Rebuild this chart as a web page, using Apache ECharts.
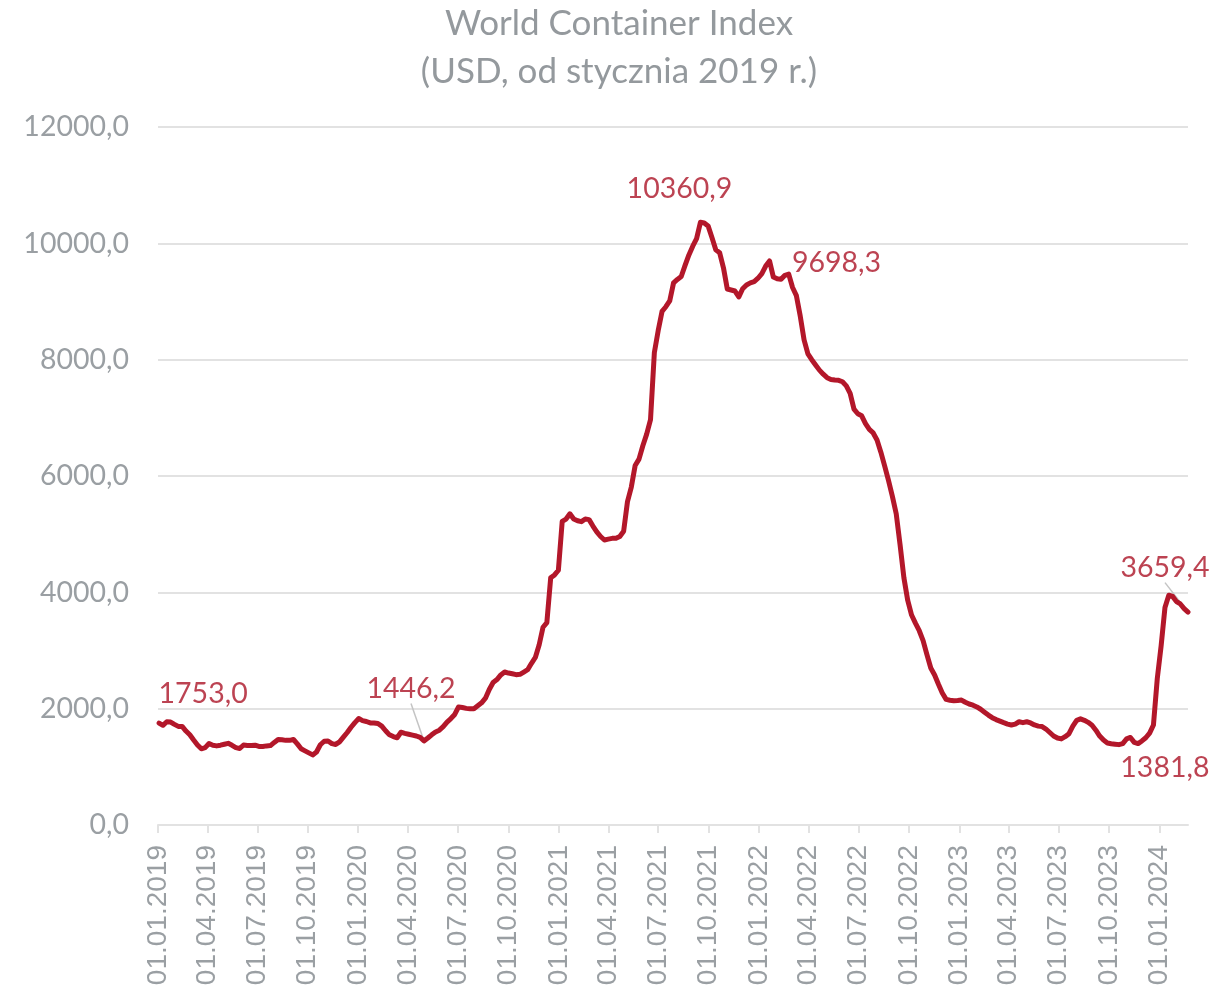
<!DOCTYPE html>
<html>
<head>
<meta charset="utf-8">
<script src="https://cdn.jsdelivr.net/npm/echarts@6/dist/echarts.min.js"></script>
<style>
  html, body { margin: 0; padding: 0; background: #fff; }
  #chart { width: 1219px; height: 996px; }
</style>
</head>
<body>
<div id="chart"></div>
<script>
// weekly index readings, first reading on Thursday 03.01.2019
const firstWeek = '2019-01-03';

const quarterTicks = [
    '2019-01-01', '2019-04-01', '2019-07-01', '2019-10-01',
    '2020-01-01', '2020-04-01', '2020-07-01', '2020-10-01',
    '2021-01-01', '2021-04-01', '2021-07-01', '2021-10-01',
    '2022-01-01', '2022-04-01', '2022-07-01', '2022-10-01',
    '2023-01-01', '2023-04-01', '2023-07-01', '2023-10-01',
    '2024-01-01'
];

const wci2019 = [
    1753.0, 1714, 1775, 1770, 1730, 1695, 1695, 1615, 1550, 1460,
    1375, 1310, 1330, 1400, 1370, 1360, 1372, 1388, 1404, 1370,
    1330, 1315, 1375, 1368, 1366, 1372, 1350, 1350, 1360, 1365,
    1420, 1470, 1465, 1455, 1455, 1470, 1395, 1310, 1275, 1240,
    1205, 1255, 1380, 1440, 1445, 1400, 1385, 1430, 1510, 1590,
    1680, 1760
];
const wci2020 = [
    1830, 1795, 1780, 1755, 1755, 1745, 1700, 1620, 1550, 1520,
    1500, 1595, 1575, 1560, 1545, 1530, 1505, 1446.2, 1495, 1550,
    1600, 1630, 1690, 1770, 1830, 1900, 2030, 2020, 2005, 1998,
    2000, 2050, 2100, 2180, 2330, 2450, 2500, 2580, 2630, 2612,
    2600, 2585, 2590, 2630, 2670, 2780, 2880, 3100, 3400, 3480,
    4250, 4300, 4380
];
const wci2021 = [
    5220, 5260, 5350, 5260, 5230, 5215, 5260, 5250, 5140, 5040,
    4960, 4900, 4915, 4928, 4928, 4960, 5050, 5560, 5810, 6180,
    6290, 6520, 6720, 6970, 8120, 8500, 8830, 8910, 9010, 9320,
    9380, 9430, 9620, 9800, 9950, 10080, 10360.9, 10350, 10300, 10100,
    9890, 9840, 9580, 9215, 9198, 9180, 9080, 9220, 9285, 9320,
    9341, 9400
];
const wci2022 = [
    9480, 9610, 9698.3, 9420, 9390, 9381, 9450, 9470, 9240, 9100,
    8750, 8340, 8100, 8000, 7910, 7820, 7750, 7690, 7660, 7650,
    7645, 7620, 7550, 7420, 7150, 7070, 7035, 6900, 6800, 6740,
    6620, 6410, 6170, 5920, 5650, 5350, 4820, 4250, 3860, 3610,
    3470, 3340, 3170, 2930, 2700, 2580, 2420, 2270, 2160, 2145,
    2137, 2140
];
const wci2023 = [
    2148, 2110, 2080, 2060, 2030, 1990, 1940, 1890, 1845, 1812,
    1785, 1759, 1735, 1720, 1735, 1775, 1760, 1775, 1755, 1720,
    1700, 1692, 1650, 1590, 1530, 1495, 1480, 1518, 1570, 1700,
    1800, 1825, 1800, 1765, 1715, 1630, 1530, 1460, 1410, 1398,
    1390, 1381.8, 1400, 1480, 1505, 1420, 1400, 1445, 1500, 1580,
    1720, 2520
];
const wci2024 = [3080, 3740, 3950, 3930, 3840, 3800, 3720, 3659.4];

// readings that carry a value label
const labelledWeeks = [0, 69, 141, 159, 250, 268];

const wci = [].concat(wci2019, wci2020, wci2021, wci2022, wci2023, wci2024);

const DAY = 86400000;
const toDay = s => {
    const [y, m, d] = s.split('-').map(Number);
    return Math.round((Date.UTC(y, m - 1, d) - Date.UTC(2019, 0, 1)) / DAY);
};
const pad = n => String(n).padStart(2, '0');
const fmtDate = day => {
    const d = new Date(Date.UTC(2019, 0, 1) + day * DAY);
    return `${pad(d.getUTCDate())}.${pad(d.getUTCMonth() + 1)}.${d.getUTCFullYear()}`;
};
const fmtNum = v => v.toFixed(1).replace('.', ',');

const startDay = toDay(firstWeek);
const lineData = wci.map((v, i) => [startDay + i * 7, v]);
const lastDay = lineData[lineData.length - 1][0];
const tickDays = quarterTicks.map(toDay);

// label placement (centre offset from the point)
const labelShift = [
    { dx: 44, dy: -29, line: false },
    { dx: -13, dy: -52, line: true },
    { dx: -21, dy: -34, line: false },
    { dx: 67, dy: 2, line: false },
    { dx: 46, dy: 23, line: false },
    { dx: -23, dy: -44, line: true }
];

const red = '#b3172a';
const grey = '#9a9fa3';
const gridGrey = '#e2e2e2';

const chart = echarts.init(document.getElementById('chart'));
chart.setOption({
    animation: false,
    title: {
        text: 'World Container Index\n(USD, od stycznia 2019 r.)',
        left: 614,
        top: -5,
        textAlign: 'center',
        textStyle: {
            fontFamily: 'Lato',
            fontSize: 35,
            fontWeight: 'normal',
            color: '#94999d',
            lineHeight: 48
        }
    },
    grid: { left: 158, right: 31, top: 127, bottom: 171 },
    xAxis: {
        type: 'value',
        min: 0,
        max: lastDay,
        splitLine: { show: false },
        axisLine: { lineStyle: { color: gridGrey, width: 2 } },
        axisTick: {
            customValues: tickDays,
            length: 8,
            lineStyle: { color: gridGrey, width: 2 }
        },
        axisLabel: {
            customValues: tickDays,
            rotate: 90,
            margin: 20,
            color: grey,
            fontFamily: 'Liberation Sans',
            fontSize: 28,
            formatter: fmtDate
        }
    },
    yAxis: {
        type: 'value',
        min: 0,
        max: 12000,
        interval: 2000,
        axisLine: { show: false },
        axisTick: { show: false },
        splitLine: { lineStyle: { color: gridGrey, width: 2 } },
        axisLabel: {
            margin: 29,
            color: grey,
            fontFamily: 'Lato',
            fontSize: 28.5,
            formatter: fmtNum
        }
    },
    series: [
        {
            type: 'line',
            data: lineData,
            showSymbol: false,
            clip: false,
            lineStyle: { color: red, width: 5, join: 'round', cap: 'round' }
        },
        {
            type: 'scatter',
            clip: false,
            symbolSize: 1,
            itemStyle: { color: 'rgba(0,0,0,0)' },
            data: labelledWeeks.map((w, k) => ({
                value: lineData[w],
                labelLine: { show: labelShift[k].line, lineStyle: { color: '#c4c4c4', width: 1.5 } }
            })),
            label: {
                show: true,
                position: 'inside',
                color: '#ab1427',
                fontFamily: 'Lato',
                fontSize: 28.5,
                formatter: p => fmtNum(p.value[1])
            },
            labelLayout: p => ({ dx: labelShift[p.dataIndex].dx, dy: labelShift[p.dataIndex].dy })
        }
    ]
});
</script>
</body>
</html>
